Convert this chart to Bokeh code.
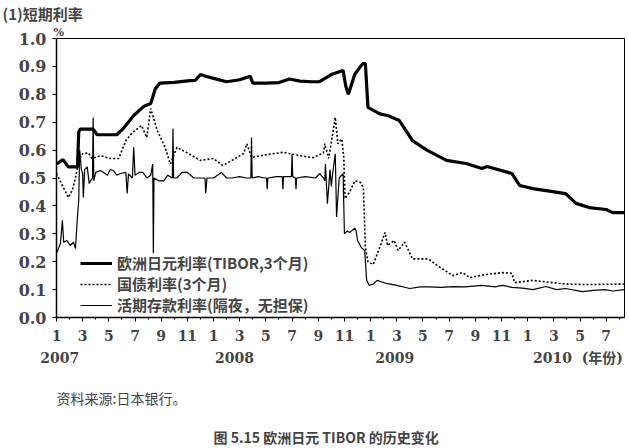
from bokeh.plotting import figure
from bokeh.models import (Range1d, LinearAxis, FixedTicker, NumeralTickFormatter,
                          Legend, LegendItem, Title)
from bokeh.embed import file_html
from bokeh.resources import INLINE

# x values are months since January 2007 (0 = Jan 2007)
tibor_x = [0, 0.5, 0.9, 1.6, 1.7, 1.8, 2.8, 3.1, 4.6, 5.1, 5.9, 6.65, 7.2, 7.55, 7.9, 9.0,
           10.0, 10.6, 11.0, 11.4, 12.0, 13.0, 14.0, 14.8, 15.0, 16.0, 17.0, 17.8, 18.6,
           19.5, 20.1, 21.1, 21.9, 22.1, 22.3, 22.8, 23.4, 23.6, 23.8, 24.7, 25.3, 26.2,
           27.2, 28.3, 29.8, 31.3, 32.5, 32.9, 34.8, 35.4, 36.4, 38.9, 39.7, 40.7, 42.0,
           42.5, 43.4]
tibor_y = [0.55, 0.566, 0.54, 0.54, 0.665, 0.675, 0.675, 0.655, 0.655, 0.677, 0.724, 0.756,
           0.767, 0.82, 0.84, 0.843, 0.848, 0.85, 0.871, 0.865, 0.857, 0.845, 0.852, 0.865,
           0.84, 0.84, 0.842, 0.855, 0.847, 0.845, 0.845, 0.873, 0.885, 0.83, 0.80, 0.873,
           0.91, 0.91, 0.753, 0.73, 0.724, 0.706, 0.634, 0.6, 0.563, 0.552, 0.534, 0.541,
           0.516, 0.473, 0.462, 0.444, 0.409, 0.394, 0.387, 0.376, 0.376]

jgb_x = [0, 0.45, 0.8, 0.9, 1.2, 1.45, 1.7, 2.0, 2.45, 2.7, 3.35, 4.1, 4.75, 5.3, 5.8, 6.5,
         6.9, 7.2, 7.7, 8.3, 8.7, 9.2, 10.0, 11.0, 12.0, 12.7, 13.4, 14.3, 14.55, 14.9, 16.1,
         17.3, 18.6, 19.6, 20.4, 20.5, 20.8, 21.3, 21.5, 21.8, 21.95, 22.05, 22.4, 22.8,
         23.2, 23.45, 23.6, 23.8, 24.2, 24.8, 25.1, 25.3, 25.8, 26.1, 26.6, 27.2, 28.4,
         29.3, 30.3, 31.0, 31.6, 32.8, 34.1, 34.8, 35.0, 36.4, 37.9, 38.9, 40.5, 43.4]
jgb_y = [0.516, 0.473, 0.44, 0.43, 0.455, 0.5, 0.563, 0.587, 0.59, 0.57, 0.58, 0.57, 0.57,
         0.634, 0.663, 0.688, 0.645, 0.749, 0.67, 0.61, 0.55, 0.61, 0.59, 0.563, 0.57,
         0.545, 0.563, 0.588, 0.623, 0.574, 0.584, 0.592, 0.58, 0.573, 0.59, 0.623, 0.57,
         0.717, 0.623, 0.64, 0.573, 0.426, 0.45, 0.49, 0.485, 0.466, 0.25, 0.2, 0.19,
         0.264, 0.305, 0.258, 0.276, 0.24, 0.27, 0.21, 0.21, 0.18, 0.15, 0.161, 0.143,
         0.154, 0.161, 0.158, 0.125, 0.133, 0.125, 0.12, 0.118, 0.12]

call_x = [0, 0.3, 0.45, 0.55, 0.8, 1.05, 1.3, 1.45, 1.6, 1.7, 1.77, 1.9, 2.0, 2.05, 2.15,
          2.35, 2.5, 2.6, 2.75, 2.8, 2.85, 3.0, 3.35, 3.6, 3.9, 4.1, 4.35, 4.6, 4.9, 5.3,
          5.4, 5.5, 5.8, 5.9, 6.0, 6.3, 6.6, 6.9, 7.2, 7.35, 7.4, 7.45, 7.8, 8.2, 8.5,
          8.85, 8.9, 8.95, 9.2, 9.6, 10.0, 10.5, 11.0, 11.35, 11.4, 11.5, 12.0, 12.6,
          13.0, 13.4, 14.0, 14.5, 14.85, 14.9, 14.95, 15.4, 15.9, 16.05, 16.1, 16.15,
          16.8, 17.25, 17.3, 17.35, 17.95, 18.0, 18.05, 18.25, 18.3, 18.35, 19.0, 19.8,
          20.1, 20.4, 20.5, 20.55, 20.7, 20.9, 21.0, 21.1, 21.3, 21.4, 21.6, 21.9, 22.0,
          22.2, 22.4, 22.8, 22.9, 23.0, 23.3, 23.55, 23.7, 23.9, 24.2, 24.5, 25.2, 26.0,
          27.0, 27.8, 28.5, 29.4, 30.3, 31.2, 32.5, 33.5, 34.1, 34.8, 35.6, 36.4, 37.4,
          38.2, 38.9, 40.2, 41.0, 41.9, 42.5, 43.4]
call_y = [0.23, 0.265, 0.348, 0.27, 0.276, 0.258, 0.27, 0.247, 0.36, 0.42, 0.6, 0.53,
          0.516, 0.43, 0.53, 0.54, 0.48, 0.49, 0.5, 0.717, 0.49, 0.52, 0.527, 0.52, 0.51,
          0.53, 0.527, 0.51, 0.516, 0.52, 0.445, 0.515, 0.5, 0.61, 0.51, 0.52, 0.52, 0.5,
          0.51, 0.55, 0.23, 0.5, 0.49, 0.49, 0.51, 0.5, 0.677, 0.5, 0.5, 0.52, 0.52, 0.5,
          0.5, 0.5, 0.445, 0.5, 0.5, 0.52, 0.5, 0.5, 0.505, 0.5, 0.5, 0.645, 0.5, 0.505,
          0.5, 0.5, 0.46, 0.5, 0.505, 0.505, 0.46, 0.505, 0.505, 0.587, 0.505, 0.5, 0.46,
          0.5, 0.505, 0.5, 0.516, 0.5, 0.49, 0.55, 0.408, 0.53, 0.47, 0.516, 0.587, 0.36,
          0.5, 0.516, 0.3, 0.31, 0.305, 0.32, 0.31, 0.276, 0.25, 0.24, 0.133, 0.115, 0.12,
          0.133, 0.122, 0.115, 0.104, 0.11, 0.11, 0.108, 0.111, 0.11, 0.115, 0.11, 0.115,
          0.108, 0.105, 0.1, 0.111, 0.1, 0.104, 0.093, 0.097, 0.1, 0.095, 0.1]

series_names = ["欧洲日元利率(TIBOR,3个月)", "国债利率(3个月)", "活期存款利率(隔夜，无担保)"]

month_ticks = [0, 2, 4, 6, 8, 10, 12, 14, 16, 18, 20, 22, 24, 26, 28, 30, 32, 34, 36, 38, 40, 42]
month_labels = ["1", "3", "5", "7", "9", "11", "1", "3", "5", "7", "9", "11",
                "1", "3", "5", "7", "9", "11", "1", "3", "5", "7"]
year_pos = [0.25, 13.6, 25.85, 37.9, 41.7]
year_labels = ["2007", "2008", "2009", "2010", "(年份)"]
y_ticks = [0.0, 0.1, 0.2, 0.3, 0.4, 0.5, 0.6, 0.7, 0.8, 0.9, 1.0]

CJK = "Noto Sans CJK SC"
SERIF = "DejaVu Serif"

p = figure(frame_width=568, frame_height=279, x_range=Range1d(0, 43.4), y_range=Range1d(0, 1.0),
           output_backend="svg", toolbar_location=None,
           min_border_left=56, min_border_right=3, min_border_top=0, min_border_bottom=10)
p.grid.visible = False
p.outline_line_color = "black"
p.outline_line_width = 1
p.background_fill_color = "white"

r1 = p.line(tibor_x, tibor_y, line_color="black", line_width=3.2)
r2 = p.line(jgb_x, jgb_y, line_color="black", line_width=1.6, line_dash="2 2")
r3 = p.line(call_x, call_y, line_color="black", line_width=1.2)

xa = p.xaxis[0]
xa.ticker = FixedTicker(ticks=month_ticks, minor_ticks=list(range(0, 44)))
xa.major_label_overrides = {t: l for t, l in zip(month_ticks, month_labels)}
xa.major_tick_in = 0
xa.major_tick_out = 4
xa.minor_tick_in = 0
xa.minor_tick_out = 2
xa.major_label_text_font = SERIF
xa.major_label_text_font_style = "bold"
xa.major_label_text_font_size = "14px"
xa.major_label_standoff = 8
xa.axis_line_width = 1.5

ya = p.yaxis[0]
ya.ticker = FixedTicker(ticks=y_ticks)
ya.formatter = NumeralTickFormatter(format="0.0")
ya.major_tick_in = 0
ya.major_tick_out = 4
ya.minor_tick_line_color = None
ya.major_label_text_font = SERIF
ya.major_label_text_font_style = "bold"
ya.major_label_text_font_size = "16px"
ya.major_label_standoff = 6
ya.axis_line_width = 1.5

year_axis = LinearAxis(ticker=FixedTicker(ticks=year_pos),
                       major_label_overrides={t: l for t, l in zip(year_pos, year_labels)},
                       axis_line_color=None, major_tick_line_color=None, minor_tick_line_color=None,
                       major_label_text_font="DejaVu Serif, Noto Sans CJK SC",
                       major_label_text_font_style="bold",
                       major_label_text_font_size="14px", major_label_standoff=0)
p.add_layout(year_axis, "below")

pct = Title(text="%", align="left", offset=-3, text_font=SERIF, text_font_size="11px",
            text_font_style="bold", standoff=0)
p.add_layout(pct, "above")
main = Title(text="(1)短期利率", align="left", offset=-54, text_font=CJK, text_font_size="15px",
             text_font_style="bold", standoff=0)
p.add_layout(main, "above")

legend = Legend(items=[LegendItem(label=series_names[0], renderers=[r1]),
                       LegendItem(label=series_names[1], renderers=[r2]),
                       LegendItem(label=series_names[2], renderers=[r3])],
                location=(24, 2), padding=0, margin=0, spacing=-4,
                label_text_font=CJK, label_text_font_size="15px", label_text_font_style="bold",
                label_height=18, glyph_height=18, glyph_width=32, label_standoff=5,
                border_line_color=None, background_fill_alpha=0)
p.add_layout(legend)

src = Title(text="资料来源:日本银行。", align="left", offset=0, text_font=CJK,
            text_font_size="14px", text_font_style="normal", standoff=34,
            text_line_height=0.7)
p.add_layout(src, "below")
cap = Title(text="图 5.15   欧洲日元 TIBOR 的历史变化", align="left", offset=157, text_font=CJK,
            text_font_size="14px", text_font_style="bold", standoff=0,
            text_line_height=0.7)
p.add_layout(cap, "below")

open("out.html", "w").write(file_html(p, INLINE))
